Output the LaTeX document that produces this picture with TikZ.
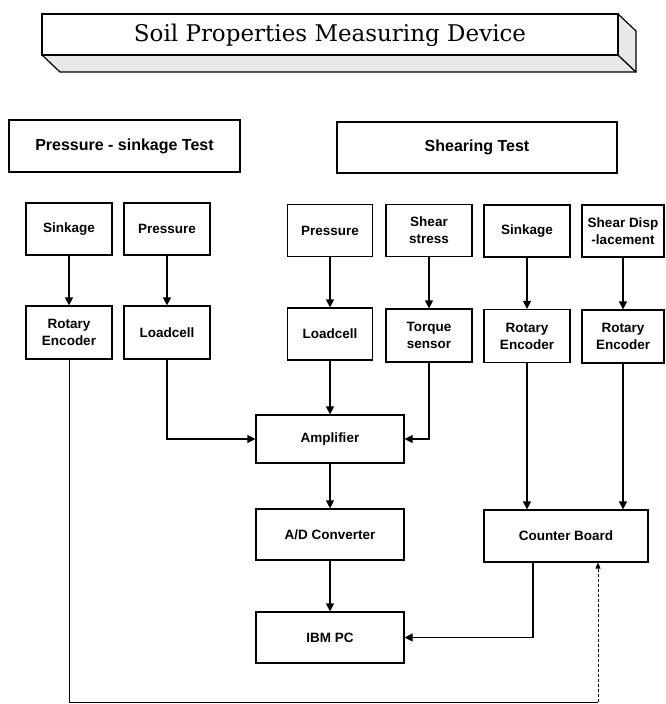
\documentclass[tikz,border=0pt]{standalone}
\usepackage{fontspec}
\newfontfamily\boxfont{Liberation Sans}
\newfontfamily\titlefont{DejaVu Serif}
\usetikzlibrary{arrows.meta}

\tikzset{
  blk/.style={draw, line width=1.2pt, inner sep=0pt, align=center,
    font=\boxfont\bfseries\fontsize{13.5}{17}\selectfont},
  headbox/.style={blk, font=\boxfont\bfseries\fontsize{16}{19}\selectfont},
  flow/.style={line width=1.2pt, -{Triangle[length=8pt,width=8pt]}},
  thinflow/.style={line width=0.8pt},
  face/.style={draw, line width=1.2pt, fill=gray!18, line join=round}
}

\begin{document}
\begin{tikzpicture}[x=1pt, y=-1pt]
\useasboundingbox (0,0) rectangle (665,704);

% title bar drawn as a slab with a bottom and a right face
\draw[face] (42,55) -- (618,55) -- (636,72) -- (60,72) -- cycle;
\draw[face] (618,14) -- (636,31) -- (636,72) -- (618,55) -- cycle;
\draw[line width=1.2pt, fill=white] (42,14) rectangle (618,55);
\node[font=\titlefont\fontsize{23}{27}\selectfont] (title) at (330,35) {Soil Properties Measuring Device};

% test headings
\node[headbox, minimum width=231pt, minimum height=52pt] (ps) at (124.5,146) {Pressure - sinkage Test};
\node[headbox, minimum width=280pt, minimum height=51pt] (sh) at (477,147.5) {Shearing Test};

% measured quantities
\node[blk, minimum width=86pt, minimum height=52pt] (sink1) at (69,229) {Sinkage};
\node[blk, minimum width=86pt, minimum height=52pt] (pres1) at (167,229) {Pressure};
\node[blk, minimum width=85pt, minimum height=52pt] (pres2) at (330,230.5) {Pressure};
\node[blk, minimum width=86pt, minimum height=52pt] (shear) at (429,230.5) {Shear\\stress};
\node[blk, minimum width=86pt, minimum height=52pt] (sink2) at (527,231) {Sinkage};
\node[blk, minimum width=82pt, minimum height=52pt] (sdisp) at (623,231) {Shear Disp\\-lacement};

% sensors
\node[blk, minimum width=86pt, minimum height=53pt] (rot1) at (69,332.5) {Rotary\\Encoder};
\node[blk, minimum width=86pt, minimum height=53pt] (load1) at (167,332.5) {Loadcell};
\node[blk, minimum width=85pt, minimum height=52pt] (load2) at (330,334) {Loadcell};
\node[blk, minimum width=86pt, minimum height=53pt] (torque) at (429,335.5) {Torque\\sensor};
\node[blk, minimum width=86pt, minimum height=53pt] (rot2) at (527,336) {Rotary\\Encoder};
\node[blk, minimum width=82pt, minimum height=53pt] (rot3) at (623,336.5) {Rotary\\Encoder};

% signal processing chain
\node[blk, minimum width=148pt, minimum height=48pt] (amp) at (330,439) {Amplifier};
\node[blk, minimum width=148pt, minimum height=51pt] (ad) at (330,534.5) {A/D Converter};
\node[blk, minimum width=148pt, minimum height=51pt] (pc) at (330,637.5) {IBM PC};
\node[blk, minimum width=164pt, minimum height=52pt] (cb) at (566,536) {Counter Board};

% quantity -> sensor
\draw[flow] (sink1) -- (rot1);
\draw[flow] (pres1) -- (load1);
\draw[flow] (pres2) -- (load2);
\draw[flow] (shear) -- (torque);
\draw[flow] (sink2) -- (rot2);
\draw[flow] (sdisp) -- (rot3);

% sensors -> amplifier / counter board
\draw[flow] (load1.south) |- (amp.west);
\draw[flow] (load2) -- (amp);
\draw[flow] (torque.south) |- (amp.east);
\draw[flow] (rot2.south) -- (rot2.south |- cb.north);
\draw[flow] (rot3.south) -- (rot3.south |- cb.north);

% chain to the PC
\draw[flow] (amp) -- (ad);
\draw[flow] (ad) -- (pc);
\draw[flow] ([xshift=-33pt]cb.south) |- (pc.east);

% encoder of the pressure-sinkage test routed to the counter board
\coordinate (turn) at (598,702);
\draw[thinflow] (rot1.south) |- (turn);
\draw[thinflow, densely dashed, -{Triangle[length=6pt,width=5pt]}] (turn) -- (turn |- cb.south);
\end{tikzpicture}
\end{document}
